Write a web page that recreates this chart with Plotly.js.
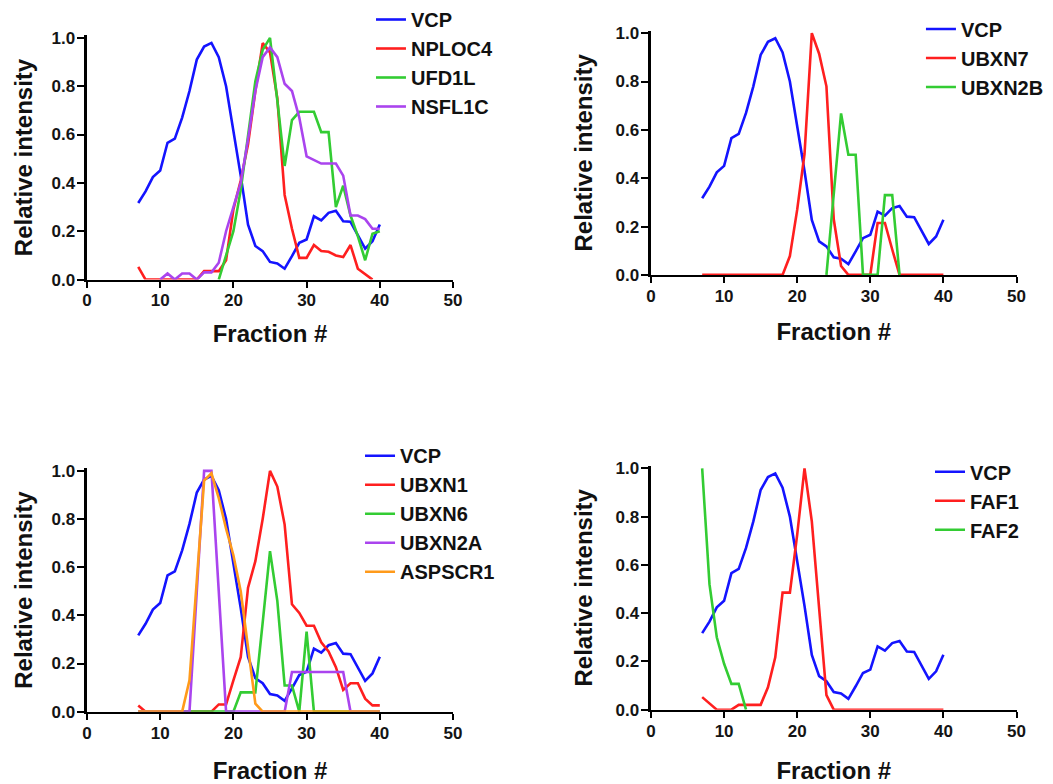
<!DOCTYPE html>
<html>
<head>
<meta charset="utf-8">
<script src="https://cdn.plot.ly/plotly-3.0.1.min.js"></script>
<style>
  html, body { margin: 0; padding: 0; background: #ffffff; }
  #chart { width: 1053px; height: 784px; }
</style>
</head>
<body>
<div id="chart"></div>
<script>
// Fractions 7..40
const fractions = [7,8,9,10,11,12,13,14,15,16,17,18,19,20,21,22,23,24,25,26,27,28,29,30,31,32,33,34,35,36,37,38,39,40];

// VCP profile (same in every panel)
const VCP = [0.317,0.365,0.424,0.451,0.566,0.583,0.67,0.78,0.91,0.964,0.979,0.92,0.80,0.62,0.43,0.227,0.139,0.118,0.073,0.067,0.045,0.097,0.152,0.166,0.262,0.245,0.276,0.285,0.241,0.239,0.185,0.128,0.159,0.228];

// Panel 1
const NPLOC4 = [0.053,0,0,0,0,0,0,0,0,0.035,0.035,0.035,0.08,0.29,0.41,0.56,0.78,0.978,0.94,0.75,0.35,0.21,0.09,0.09,0.143,0.118,0.115,0.10,0.093,0.143,0.045,0.022,0,null];
const UFD1L = [null,null,null,null,null,null,null,null,null,null,null,0,0.1,0.2,0.37,0.6,0.82,0.95,1.0,0.74,0.47,0.66,0.694,0.694,0.694,0.61,0.61,0.30,0.388,0.265,0.18,0.08,0.19,0.2];
const NSFL1C = [null,null,null,0,0.025,0,0.025,0.025,0,0.03,0.03,0.07,0.2,0.3,0.4,0.58,0.78,0.92,0.96,0.92,0.81,0.78,0.67,0.51,0.495,0.48,0.48,0.48,0.43,0.265,0.265,0.25,0.21,0.21];

// Panel 2
const UBXN7 = [0,0,0,0,0,0,0,0,0,0,0,0,0.078,0.27,0.5,1.0,0.915,0.78,0.23,0.037,0,0,0,0,0.215,0.215,0.105,0,0,0,0,0,0,0];
const UBXN2B = [null,null,null,null,null,null,null,null,null,null,null,null,null,null,null,null,null,0,0.334,0.668,0.497,0.497,0,0,0,0.33,0.33,0,null,null,null,null,null,null];

// Panel 3
const UBXN1 = [0.026,0,0,0,0,0,0,0,0,0,0,0.03,0.03,0.13,0.226,0.515,0.625,0.80,1.0,0.935,0.777,0.446,0.41,0.357,0.357,0.288,0.25,0.185,0.09,0.118,0.118,0.054,0.026,0.026];
const UBXN6 = [0,0,0,0,0,0,0,0,0,0,0,0,0,0,0.08,0.08,0.08,0.37,0.667,0.46,0.109,0.109,0,0.333,0,0,0,0,0,0,0,0,0,0];
const UBXN2A = [0,0,0,0,0,0,0,0,0.5,1.0,1.0,0.5,0,0,0,0,0,0,0,0,0,0.165,0.165,0.165,0.165,0.165,0.165,0.165,0.165,0,0,0,0,0];
const ASPSCR1 = [0,0,0,0,0,0,0,0.13,0.55,0.96,0.99,0.887,0.76,0.65,0.5,0.267,0.033,0,0,0,0,0,0,0,0,0,0,0,0,0,0,0,0,0];

// Panel 4
const FAF1 = [0.052,0.025,0,0,0,0.02,0.02,0.02,0.02,0.093,0.217,0.485,0.485,0.725,1.0,0.78,0.41,0.06,0,0,0,0,0,0,0,0,0,0,0,0,0,0,0,0];
const FAF2 = [1.0,0.52,0.30,0.19,0.107,0.107,0,null,null,null,null,null,null,null,null,null,null,null,null,null,null,null,null,null,null,null,null,null,null,null,null,null,null,null];

const COLORS = {blue:'#1414ff', red:'#ff1f1f', green:'#33cc33', purple:'#aa44ee', orange:'#ff9a1a'};
const LW = 2.6;

function tr(name, y, color, ax, leg) {
  return {
    type: 'scatter', mode: 'lines', name: name,
    x: fractions, y: y,
    line: {color: color, width: LW},
    xaxis: 'x' + ax, yaxis: 'y' + ax,
    legend: leg, connectgaps: false, showlegend: true
  };
}

const data = [
  tr('VCP', VCP, COLORS.blue, '', 'legend'),
  tr('NPLOC4', NPLOC4, COLORS.red, '', 'legend'),
  tr('UFD1L', UFD1L, COLORS.green, '', 'legend'),
  tr('NSFL1C', NSFL1C, COLORS.purple, '', 'legend'),

  tr('VCP', VCP, COLORS.blue, '2', 'legend2'),
  tr('UBXN7', UBXN7, COLORS.red, '2', 'legend2'),
  tr('UBXN2B', UBXN2B, COLORS.green, '2', 'legend2'),

  tr('VCP', VCP, COLORS.blue, '3', 'legend3'),
  tr('UBXN1', UBXN1, COLORS.red, '3', 'legend3'),
  tr('UBXN6', UBXN6, COLORS.green, '3', 'legend3'),
  tr('UBXN2A', UBXN2A, COLORS.purple, '3', 'legend3'),
  tr('ASPSCR1', ASPSCR1, COLORS.orange, '3', 'legend3'),

  tr('VCP', VCP, COLORS.blue, '4', 'legend4'),
  tr('FAF1', FAF1, COLORS.red, '4', 'legend4'),
  tr('FAF2', FAF2, COLORS.green, '4', 'legend4')
];

const FAM = 'Liberation Sans, Arial, Helvetica, sans-serif';
const tickFont = {family: FAM, size: 17, color: '#141414', weight: 'bold'};
const titleFont = {family: FAM, size: 24, color: '#111111', weight: 'bold'};
const legFont = {family: FAM, size: 20, color: '#111111', weight: 'bold'};

function xax(domain, anchor, standoff) {
  return {
    domain: domain, anchor: anchor, range: [0, 50], dtick: 10, tick0: 0,
    showline: true, linewidth: 2.5, linecolor: '#000', mirror: false,
    ticks: 'outside', ticklen: 6, tickwidth: 2, tickcolor: '#000',
    ticklabelstandoff: -2,
    showgrid: false, zeroline: false, tickfont: tickFont,
    title: {text: 'Fraction #', font: titleFont, standoff: standoff},
    automargin: false, fixedrange: true
  };
}
function yax(domain, anchor, standoff) {
  return {
    domain: domain, anchor: anchor, range: [0, 1.01], dtick: 0.2, tick0: 0,
    tickvals: [0, 0.2, 0.4, 0.6, 0.8, 1.0], tickformat: '.1f',
    showline: true, linewidth: 2.5, linecolor: '#000',
    ticks: 'outside', ticklen: 7, tickwidth: 2, tickcolor: '#000',
    ticklabelstandoff: -1,
    showgrid: false, zeroline: false, tickfont: tickFont,
    title: {text: 'Relative intensity', font: titleFont, standoff: standoff},
    automargin: false, fixedrange: true
  };
}
function leg(x, y) {
  return {x: x, y: y, xanchor: 'left', yanchor: 'top', bgcolor: 'rgba(0,0,0,0)',
          borderwidth: 0, font: legFont, itemwidth: 30, tracegroupgap: 0};
}

const layout = {
  width: 1053, height: 784,
  margin: {l: 0, r: 0, t: 0, b: 0},
  paper_bgcolor: '#ffffff', plot_bgcolor: 'rgba(0,0,0,0)',
  xaxis:  xax([0.08262, 0.43020], 'y', 16),
  yaxis:  yax([0.64668, 0.95973], 'x', 12),
  xaxis2: xax([0.61823, 0.96534], 'y2', 19),
  yaxis2: yax([0.65268, 0.96573], 'x2', 16),
  xaxis3: xax([0.08262, 0.43020], 'y3', 22),
  yaxis3: yax([0.09273, 0.40449], 'x3', 12),
  xaxis4: xax([0.61823, 0.96534], 'y4', 23),
  yaxis4: yax([0.09528, 0.40782], 'x4', 16),
  legend:  leg(0.3523, 1.0057),
  legend2: leg(0.8746, 0.99298),
  legend3: leg(0.3419, 0.44592),
  legend4: leg(0.8832, 0.42538),
  showlegend: true
};

Plotly.newPlot('chart', data, layout, {staticPlot: true, displayModeBar: false});
</script>
</body>
</html>
